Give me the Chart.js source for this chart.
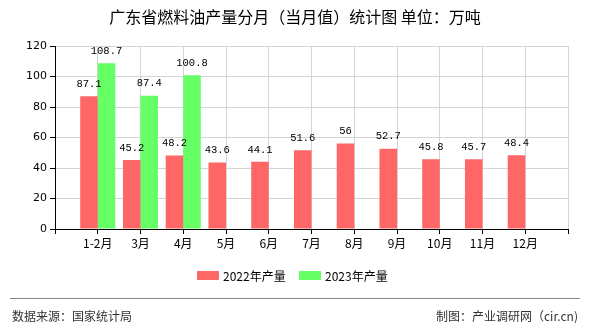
<!DOCTYPE html>
<html>
<head>
<meta charset="utf-8">
<script src="https://cdn.jsdelivr.net/npm/chart.js@4"></script>
<style>
  html, body { margin: 0; padding: 0; background: #fff; }
  #wrap { width: 590px; height: 330px; position: relative; }
</style>
</head>
<body>
<div id="wrap"><canvas id="chart" width="590" height="330"></canvas></div>
<script>
// 月份（首尾留空，使类别落在网格线上）
const months   = ['1-2月', '3月', '4月', '5月', '6月', '7月', '8月', '9月', '10月', '11月', '12月'];
const prod2022 = [87.1, 45.2, 48.2, 43.6, 44.1, 51.6, 56, 52.7, 45.8, 45.7, 48.4];
const prod2023 = [108.7, 87.4, 100.8];
const yTicks   = [0, 20, 40, 60, 80, 100, 120];

const TITLE  = '广东省燃料油产量分月（当月值）统计图 单位：万吨';
const SOURCE = '数据来源：国家统计局';
const MAKER  = '制图：产业调研网（cir.cn)';

const RED   = '#ff6666';
const GREEN = '#66ff66';
const CJK   = '"Noto Sans CJK SC", "DejaVu Sans", sans-serif';

// 首尾补空位
function pad(arr) {
  const out = [null].concat(arr);
  while (out.length < months.length + 2) out.push(null);
  return out;
}
const labels = [''].concat(months, ['']);

// -----------------------------------------------
// 标题、柱顶数值、图例、页脚
// -----------------------------------------------
const decorPlugin = {
  id: 'decor',
  afterDatasetsDraw(chart) {
    const ctx = chart.ctx;
    ctx.save();
    ctx.font = '10.5px "Liberation Mono", "DejaVu Sans Mono", monospace';
    ctx.fillStyle = '#000';
    ctx.textAlign = 'center';
    ctx.textBaseline = 'middle';
    chart.data.datasets.forEach(function(ds, i) {
      const meta = chart.getDatasetMeta(i);
      meta.data.forEach(function(bar, j) {
        const v = ds.data[j];
        if (v === null || v === undefined) return;
        ctx.fillText(String(v), bar.x, bar.y - 12);
      });
    });
    ctx.restore();
  },
  afterDraw(chart) {
    const ctx = chart.ctx;
    ctx.save();
    // 标题
    ctx.fillStyle = '#000';
    ctx.font = '16px ' + CJK;
    ctx.textAlign = 'center';
    ctx.textBaseline = 'middle';
    ctx.fillText(TITLE, 295, 17);

    // 图例
    const items = [
      { text: '2022年产量', color: RED,   x: 197 },
      { text: '2023年产量', color: GREEN, x: 299 }
    ];
    ctx.font = '12px ' + CJK;
    ctx.textAlign = 'left';
    items.forEach(function(it) {
      ctx.fillStyle = it.color;
      ctx.fillRect(it.x, 271, 22, 9);
      ctx.fillStyle = '#000';
      ctx.fillText(it.text, it.x + 26, 276);
    });

    // 页脚
    ctx.strokeStyle = '#888';
    ctx.lineWidth = 1;
    ctx.beginPath();
    ctx.moveTo(10, 298.5);
    ctx.lineTo(580, 298.5);
    ctx.stroke();
    ctx.fillStyle = '#333';
    ctx.font = '12px ' + CJK;
    ctx.textAlign = 'left';
    ctx.fillText(SOURCE, 12, 316);
    ctx.textAlign = 'right';
    ctx.fillText(MAKER, 578, 316);
    ctx.restore();
  }
};

const ctx = document.getElementById('chart').getContext('2d');
new Chart(ctx, {
  type: 'bar',
  data: {
    labels: labels,
    datasets: [
      {
        label: '2022年产量',
        data: pad(prod2022),
        backgroundColor: RED,
        categoryPercentage: 0.82,
        barPercentage: 1.0
      },
      {
        label: '2023年产量',
        data: pad(prod2023),
        backgroundColor: GREEN,
        categoryPercentage: 0.82,
        barPercentage: 1.0
      }
    ]
  },
  options: {
    responsive: false,
    animation: false,
    layout: { padding: { left: 0, right: 22, top: 46, bottom: 81 } },
    plugins: {
      legend: { display: false },
      title: { display: false },
      tooltip: { enabled: false }
    },
    scales: {
      x: {
        offset: false,
        grid: { color: '#d4d4d4', tickColor: '#000', tickLength: 5, offset: false },
        border: { color: '#000', width: 1 },
        ticks: {
          color: '#000',
          font: { family: CJK, size: 12 },
          maxRotation: 0,
          autoSkip: false,
          padding: 2
        },
        afterFit: function(scale) { scale.height = 20; }
      },
      y: {
        min: 0,
        max: 120,
        afterBuildTicks: function(scale) {
          scale.ticks = yTicks.map(function(v) { return { value: v }; });
        },
        grid: { color: '#d4d4d4', tickColor: '#000', tickLength: 5 },
        border: { color: '#000', width: 1 },
        ticks: {
          color: '#000',
          font: { family: '"DejaVu Sans", sans-serif', size: 11 },
          padding: 3
        },
        afterFit: function(scale) { scale.width = 55; }
      }
    }
  },
  plugins: [decorPlugin]
});
</script>
</body>
</html>
